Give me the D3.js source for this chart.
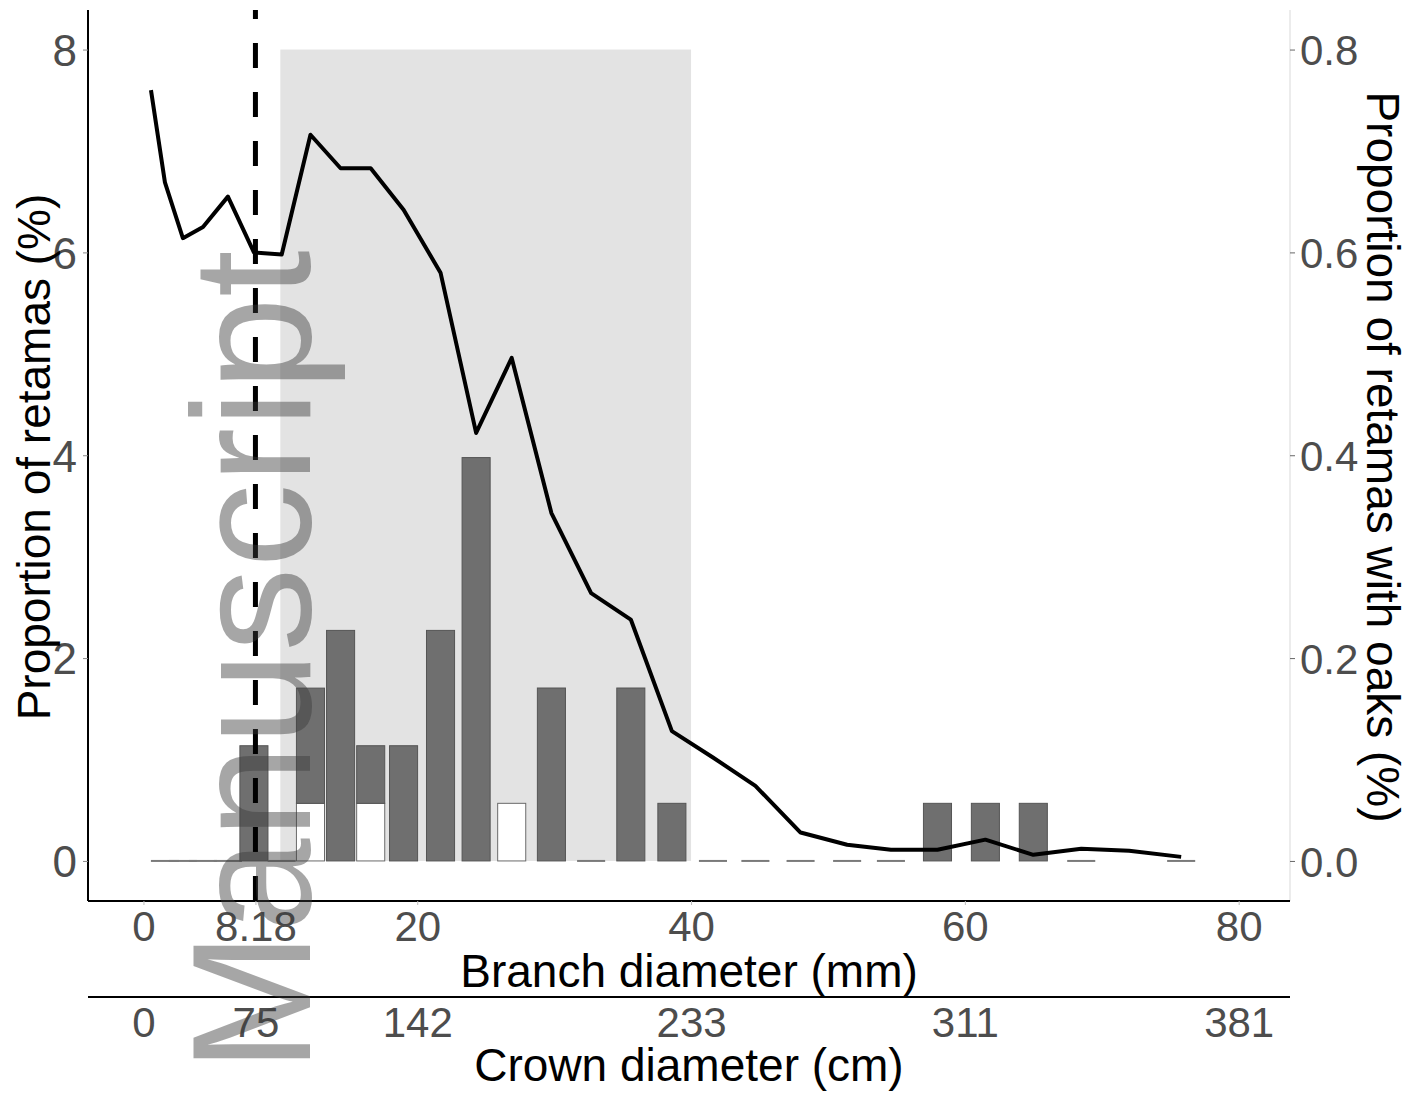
<!DOCTYPE html>
<html>
<head>
<meta charset="utf-8">
<script src="https://cdn.jsdelivr.net/npm/d3@7"></script>
<style>
  html, body { margin: 0; padding: 0; background: #fff; }
  svg { display: block; font-family: "Liberation Sans", Arial, sans-serif; }
</style>
</head>
<body>
<svg id="chart" width="1421" height="1095"></svg>
<script>
// Branch-diameter classes (mm, class mid-points) used by the histogram bars
const binMid = [1.57, 2.88, 4.35, 6.17, 8.07, 10.1, 12.2, 14.4, 16.6, 19.0, 21.7, 24.3, 26.9,
                29.8, 32.7, 35.6, 38.6, 41.6, 44.7, 48.0, 51.4, 54.6, 58.0, 61.5, 65.0, 68.5, 75.8];
// Share of retamas in each class (%), dark part of the stacked bar
const shareDark = [0, 0, 0, 0, 1.136, 0, 1.136, 2.273, 0.568, 1.136, 2.273, 3.977, 0,
                   1.705, 0, 1.705, 0.568, 0, 0, 0, 0, 0, 0.568, 0.568, 0.568, 0, 0];
// Share of retamas in each class (%), white part at the base of the stacked bar
const shareLight = [0, 0, 0, 0, 0, 0, 0.568, 0, 0.568, 0, 0, 0, 0.568,
                    0, 0, 0, 0, 0, 0, 0, 0, 0, 0, 0, 0, 0, 0];

// Proportion of retamas with oaks along branch diameter (right axis)
const curveX = [0.55, 1.57, 2.88, 4.35, 6.17, 8.07, 10.1, 12.2, 14.4, 16.6, 19.0, 21.7, 24.3, 26.9,
                29.8, 32.7, 35.6, 38.6, 41.6, 44.7, 48.0, 51.4, 54.6, 58.0, 61.5, 65.0, 68.5, 72.0, 75.8];
const curveY = [0.760, 0.669, 0.614, 0.625, 0.655, 0.600, 0.598, 0.716, 0.683, 0.683, 0.642, 0.580, 0.422, 0.496,
                0.343, 0.264, 0.238, 0.128, 0.102, 0.074, 0.028, 0.016, 0.011, 0.011, 0.021, 0.006, 0.012, 0.010, 0.004];

// Axis ticks
const leftTicks = [0, 2, 4, 6, 8];
const rightTicks = [0.0, 0.2, 0.4, 0.6, 0.8];
const branchTicks = [0, 8.18, 20, 40, 60, 80];
const branchLabels = ["0", "8.18", "20", "40", "60", "80"];
const crownLabels = ["0", "75", "142", "233", "311", "381"];

// Threshold and highlighted range (mm)
const threshold = 8.18;
const bandRange = [10, 40];
const bandTop = 8;

const barWidthMm = 2.05;

const svg = d3.select("#chart");
const panel = { left: 88, right: 1290, top: 10, bottom: 901 };

const x = d3.scaleLinear().domain([-4.05, 83.75]).range([panel.left, panel.right]);
const y = d3.scaleLinear().domain([-0.395, 8.39]).range([panel.bottom, panel.top]);
const yR = d3.scaleLinear().domain([-0.0395, 0.839]).range([panel.bottom, panel.top]);

const labelColor = "#4d4d4d";
const tickFont = 42;
const titleFont = 46;
const fontFamily = "Liberation Sans, Arial, sans-serif";

// Highlighted diameter range
svg.append("rect")
  .attr("x", x(bandRange[0])).attr("y", y(bandTop))
  .attr("width", x(bandRange[1]) - x(bandRange[0]))
  .attr("height", y(0) - y(bandTop))
  .attr("fill", "#e3e3e3");

// Histogram bars (white base + dark top), empty classes as baseline strokes
const bars = svg.append("g");
binMid.forEach((m, i) => {
  const x0 = x(m - barWidthMm / 2), x1 = x(m + barWidthMm / 2);
  const lo = shareLight[i], hi = shareDark[i];
  if (lo + hi === 0) {
    bars.append("line")
      .attr("x1", x0).attr("x2", x1).attr("y1", y(0)).attr("y2", y(0))
      .attr("stroke", "#7a7a7a").attr("stroke-width", 2);
    return;
  }
  if (lo > 0) {
    bars.append("rect")
      .attr("x", x0).attr("width", x1 - x0)
      .attr("y", y(lo)).attr("height", y(0) - y(lo))
      .attr("fill", "#ffffff").attr("stroke", "#6a6a6a").attr("stroke-width", 1);
  }
  if (hi > 0) {
    bars.append("rect")
      .attr("x", x0).attr("width", x1 - x0)
      .attr("y", y(lo + hi)).attr("height", y(lo) - y(lo + hi))
      .attr("fill", "#6f6f6f").attr("stroke", "#555555").attr("stroke-width", 1);
  }
});

// Threshold line
svg.append("line")
  .attr("x1", x(threshold)).attr("x2", x(threshold))
  .attr("y1", panel.bottom).attr("y2", panel.top)
  .attr("stroke", "#000").attr("stroke-width", 5)
  .attr("stroke-dasharray", "25,24");

// Proportion curve
const curve = d3.line().x((d, i) => x(curveX[i])).y(d => yR(d));
svg.append("path")
  .datum(curveY)
  .attr("d", curve)
  .attr("fill", "none").attr("stroke", "#000").attr("stroke-width", 4)
  .attr("stroke-linejoin", "round");

// Left axis
const gL = svg.append("g").attr("transform", `translate(${panel.left},0)`)
  .call(d3.axisLeft(y).tickValues(leftTicks).tickFormat(d3.format("d")).tickSize(5).tickPadding(6));
gL.select(".domain").attr("d", `M0,${panel.top}V${panel.bottom}`).attr("stroke", "#000").attr("stroke-width", 2);
gL.selectAll(".tick line").attr("stroke", "#888");
gL.selectAll(".tick text").attr("font-size", 44).attr("fill", labelColor)
  .attr("font-family", fontFamily).attr("dy", "0.36em");

// Right axis
const gR = svg.append("g").attr("transform", `translate(${panel.right},0)`)
  .call(d3.axisRight(yR).tickValues(rightTicks).tickFormat(d3.format(".1f")).tickSize(5).tickPadding(5));
gR.select(".domain").attr("d", `M0,${panel.top}V${panel.bottom}`).attr("stroke", "#ececec").attr("stroke-width", 2);
gR.selectAll(".tick line").attr("stroke", "#666");
gR.selectAll(".tick text").attr("font-size", tickFont).attr("fill", labelColor)
  .attr("font-family", fontFamily).attr("dy", "0.36em");

// Bottom axis: branch diameter
const gB = svg.append("g").attr("transform", `translate(0,${panel.bottom})`)
  .call(d3.axisBottom(x).tickValues(branchTicks).tickFormat((d, i) => branchLabels[i]).tickSize(4).tickPadding(6));
gB.select(".domain").attr("d", `M${panel.left},0H${panel.right}`).attr("stroke", "#000").attr("stroke-width", 2);
gB.selectAll(".tick line").attr("stroke", "#bbb");
gB.selectAll(".tick text").attr("font-size", tickFont).attr("fill", labelColor)
  .attr("font-family", fontFamily).attr("dy", "0.72em");

svg.append("text")
  .attr("x", 689).attr("y", 987)
  .attr("text-anchor", "middle").attr("font-size", titleFont).attr("fill", "#000")
  .text("Branch diameter (mm)");

// Second axis: crown diameter equivalents
const crownY = 997;
const gC = svg.append("g").attr("transform", `translate(0,${crownY})`)
  .call(d3.axisBottom(x).tickValues(branchTicks).tickFormat((d, i) => crownLabels[i]).tickSize(0).tickPadding(10));
gC.select(".domain").attr("d", `M${panel.left},0H${panel.right}`).attr("stroke", "#000").attr("stroke-width", 2);
gC.selectAll(".tick text").attr("font-size", tickFont).attr("fill", labelColor)
  .attr("font-family", fontFamily).attr("dy", "0.72em");

svg.append("text")
  .attr("x", 689).attr("y", 1081)
  .attr("text-anchor", "middle").attr("font-size", titleFont).attr("fill", "#000")
  .text("Crown diameter (cm)");

// Y axis titles
svg.append("text")
  .attr("transform", "translate(50,457) rotate(-90)")
  .attr("text-anchor", "middle").attr("font-size", titleFont).attr("fill", "#000")
  .text("Proportion of retamas (%)");

svg.append("text")
  .attr("transform", "translate(1367,457) rotate(90)")
  .attr("text-anchor", "middle").attr("font-size", titleFont).attr("fill", "#000")
  .text("Proportion of retamas with oaks (%)");

// Watermark
svg.append("text")
  .attr("transform", "translate(310,1072) rotate(-90)")
  .attr("text-anchor", "start").attr("font-size", 168)
  .attr("fill", "#3a3a3a").attr("fill-opacity", 0.45)
  .text("Manuscript");
</script>
</body>
</html>
